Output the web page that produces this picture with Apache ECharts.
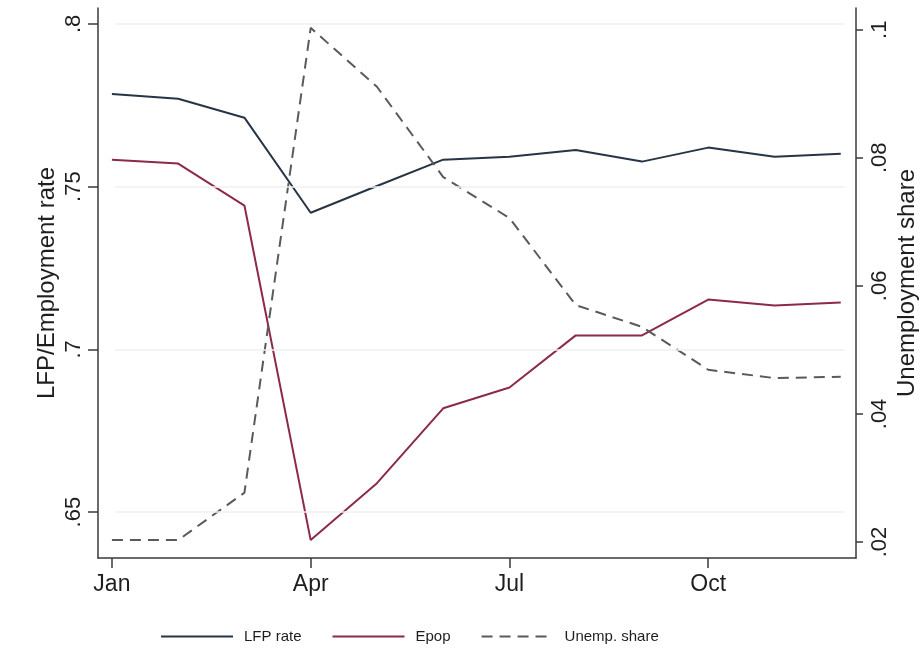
<!DOCTYPE html>
<html>
<head>
<meta charset="utf-8">
<title>LFP, Epop and unemployment share</title>
<script src="https://cdn.jsdelivr.net/npm/echarts@6/dist/echarts.min.js"></script>
<style>
  html, body { margin: 0; padding: 0; background: #ffffff; }
  #chart { width: 924px; height: 655px; }
</style>
</head>
<body>
<div id="chart"></div>
<script>
// Monthly series, Jan..Dec
const months = ['Jan', 'Feb', 'Mar', 'Apr', 'May', 'Jun', 'Jul', 'Aug', 'Sep', 'Oct', 'Nov', 'Dec'];
const lfpRate = [0.7785, 0.7770, 0.7712, 0.7420, 0.7502, 0.7583, 0.7592, 0.7613, 0.7577, 0.7620, 0.7592, 0.7601];
const epop = [0.7583, 0.7571, 0.7442, 0.6414, 0.6589, 0.6819, 0.6883, 0.7043, 0.7043, 0.7153, 0.7135, 0.7144];
const unempShare = [0.0203, 0.0203, 0.0277, 0.1003, 0.0911, 0.0770, 0.0706, 0.0570, 0.0536, 0.0469, 0.0456, 0.0458];

// Axis ticks
const monthTicks = [0, 3, 6, 9];
const leftTicks = [0.65, 0.70, 0.75, 0.80];
const rightTicks = [0.02, 0.04, 0.06, 0.08, 0.10];

const FONT = 'Liberation Sans, Arial, sans-serif';
const AXIS_COLOR = '#3a3a3a';
const TEXT_COLOR = '#1e1e1e';

// Stata-style tick text: drop the leading zero (".75")
function dotLabel(v) {
  return String(+v.toFixed(3)).replace(/^0\./, '.');
}

const chart = echarts.init(document.getElementById('chart'), null, { renderer: 'canvas' });

chart.setOption({
  backgroundColor: '#ffffff',
  animation: false,
  grid: { left: 98, right: 68, top: 8, bottom: 97, containLabel: false, outerBoundsMode: 'none' },
  legend: {
    left: 160,
    top: 629,
    padding: 0,
    itemWidth: 72,
    itemHeight: 14,
    itemGap: 30,
    itemStyle: { opacity: 0 },
    textStyle: { fontFamily: FONT, fontSize: 15, color: TEXT_COLOR, padding: [0, 0, 0, 6] },
    data: ['LFP rate', 'Epop', 'Unemp. share']
  },
  xAxis: {
    type: 'value',
    min: -0.21,
    max: 11.23,
    axisLine: { show: true, onZero: false, lineStyle: { color: AXIS_COLOR, width: 1.5 } },
    axisTick: { show: true, length: 10, customValues: monthTicks, lineStyle: { color: AXIS_COLOR, width: 1.5 } },
    axisLabel: {
      customValues: monthTicks,
      formatter: v => months[Math.round(v)],
      fontFamily: FONT, fontSize: 23, color: TEXT_COLOR, margin: 15
    },
    splitLine: { show: false }
  },
  yAxis: [
    {
      type: 'value',
      position: 'left',
      min: 0.6359,
      max: 0.8049,
      name: 'LFP/Employment rate',
      nameLocation: 'middle',
      nameRotate: 90,
      nameGap: 39,
      nameMoveOverlap: false,
      nameTextStyle: { fontFamily: FONT, fontSize: 24, color: TEXT_COLOR, align: 'center', verticalAlign: 'bottom' },
      axisLine: { show: true, onZero: false, lineStyle: { color: AXIS_COLOR, width: 1.5 } },
      axisTick: { show: true, length: 10, customValues: leftTicks, lineStyle: { color: AXIS_COLOR, width: 1.5 } },
      axisLabel: {
        customValues: leftTicks,
        rotate: 90,
        align: 'center',
        verticalAlign: 'bottom',
        formatter: dotLabel,
        fontFamily: FONT, fontSize: 22, color: TEXT_COLOR, margin: 13
      },
      splitLine: { show: false }
    },
    {
      type: 'value',
      position: 'right',
      min: 0.0175,
      max: 0.1034,
      name: 'Unemployment share',
      nameLocation: 'middle',
      nameRotate: 90,
      nameGap: 39,
      nameMoveOverlap: false,
      nameTextStyle: { fontFamily: FONT, fontSize: 24, color: TEXT_COLOR, align: 'center', verticalAlign: 'top' },
      axisLine: { show: true, onZero: false, lineStyle: { color: AXIS_COLOR, width: 1.5 } },
      axisTick: { show: true, length: 7, customValues: rightTicks, lineStyle: { color: AXIS_COLOR, width: 1.5 } },
      axisLabel: {
        customValues: rightTicks,
        rotate: 90,
        align: 'center',
        verticalAlign: 'top',
        formatter: dotLabel,
        fontFamily: FONT, fontSize: 22, color: TEXT_COLOR, margin: 13
      },
      splitLine: { show: false }
    }
  ],
  series: [
    {
      name: 'LFP rate',
      type: 'line',
      yAxisIndex: 0,
      symbol: 'none',
      data: lfpRate.map((v, i) => [i, v]),
      lineStyle: { color: '#263545', width: 2 },
      itemStyle: { color: '#263545' },
      // faint horizontal guides at the left-axis ticks
      markLine: {
        silent: true,
        symbol: 'none',
        label: { show: false },
        lineStyle: { color: '#f0f0f0', width: 1.5, type: 'solid' },
        data: leftTicks.map(v => [{ coord: [0.05, v] }, { coord: [11.06, v] }])
      },
      z: 3
    },
    {
      name: 'Epop',
      type: 'line',
      yAxisIndex: 0,
      symbol: 'none',
      data: epop.map((v, i) => [i, v]),
      lineStyle: { color: '#8c2a48', width: 2 },
      itemStyle: { color: '#8c2a48' },
      z: 3
    },
    {
      name: 'Unemp. share',
      type: 'line',
      yAxisIndex: 1,
      symbol: 'none',
      data: unempShare.map((v, i) => [i, v]),
      lineStyle: { color: '#5a5a5a', width: 2, type: [11, 7] },
      itemStyle: { color: '#5a5a5a' },
      z: 3
    }
  ]
});
</script>
</body>
</html>
